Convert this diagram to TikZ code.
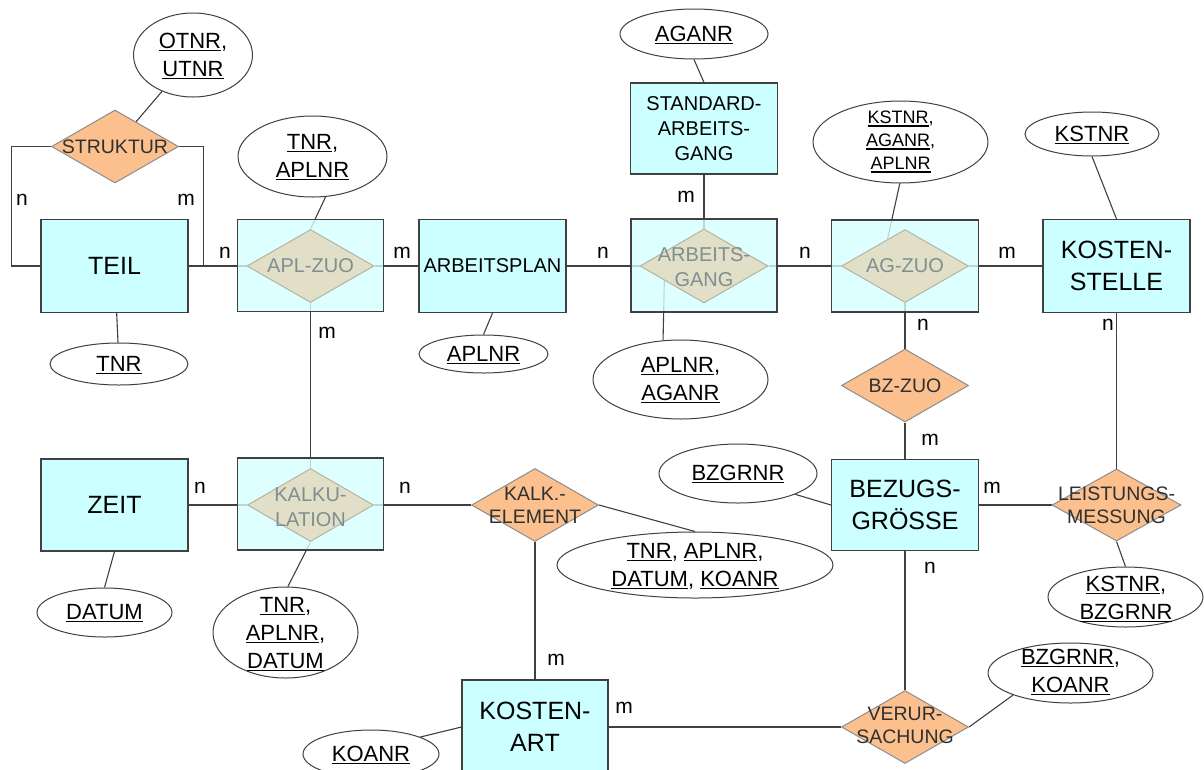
\documentclass[tikz,border=0pt]{standalone}
\usepackage{fontspec}
\setmainfont{Liberation Sans}
\usetikzlibrary{shapes.geometric}
\pgfdeclarelayer{paper}
\pgfdeclarelayer{bg}
\pgfsetlayers{paper,bg,main}
\definecolor{entfill}{HTML}{CCFFFF}
\definecolor{relfill}{HTML}{FBC08E}
\definecolor{relline}{HTML}{8C8C8C}
\definecolor{assocfill}{HTML}{D6FFFF}
\definecolor{assocdia}{HTML}{E2DFC8}
\definecolor{assocline}{HTML}{B4B4A0}
\definecolor{assoctext}{HTML}{7F8F8F}
\definecolor{linec}{HTML}{404040}
\definecolor{reltextc}{HTML}{303030}
\newsavebox\undlbox
\newcommand\undl[1]{\sbox\undlbox{#1}\rlap{\rule[-2.8pt]{\wd\undlbox}{1.2pt}}\usebox\undlbox}
\tikzset{
  entity/.style={rectangle, draw=linec, line width=1.1pt, fill=entfill, minimum width=147pt, minimum height=93pt, inner sep=0pt, align=center, font=\fontsize{25}{32}\selectfont},
  entsmall/.style={entity, font=\fontsize{20}{25}\selectfont},
  rel/.style={diamond, draw=relline, line width=1pt, fill=relfill, minimum width=127pt, minimum height=73pt, inner sep=0pt},
  reltext/.style={inner sep=0pt, align=center, text=reltextc, font=\fontsize{19.5}{23}\selectfont},
  assocbox/.style={rectangle, draw=linec, line width=1.1pt, fill=assocfill, fill opacity=0.8, minimum width=146pt, minimum height=92pt, inner sep=0pt},
  assocdia/.style={diamond, draw=assocline, line width=1pt, fill=assocdia, minimum width=127pt, minimum height=73pt, inner sep=0pt},
  assoctext/.style={inner sep=0pt, align=center, text=assoctext, font=\fontsize{20}{25}\selectfont},
  attr/.style={ellipse, draw=linec, line width=1pt, fill=white, inner sep=0pt},
  attrtext/.style={inner sep=0pt, align=center, font=\fontsize{22}{28}\selectfont},
  attrsmall/.style={inner sep=0pt, align=center, font=\fontsize{18}{23}\selectfont},
  card/.style={inner sep=0pt, font=\fontsize{21}{24}\selectfont},
  conn/.style={draw=linec, line width=1.1pt}
}
\begin{document}
\begin{tikzpicture}[x=1pt,y=-1pt]
\begin{pgfonlayer}{paper}
\fill[white] (0,0) rectangle (1204,769);
\end{pgfonlayer}
\useasboundingbox (0,0) rectangle (1204,769);

% entities
\node[entity] (teil) at (114.5,266) {TEIL};
\node[entsmall] (arbplan) at (492.5,266) {ARBEITSPLAN};
\node[entsmall, minimum height=91pt] (stdag) at (704,128.5) {STANDARD-\\ARBEITS-\\GANG};
\node[entity] (kst) at (1116.5,266) {KOSTEN-\\STELLE};
\node[entity, minimum height=91pt] (bezug) at (905,505) {BEZUGS-\\GRÖSSE};
\node[entity, minimum height=92pt] (zeit) at (114.5,505) {ZEIT};
\node[entity, minimum width=146pt, minimum height=94pt] (kart) at (535,727) {KOSTEN-\\ART};

% relationships
\node[rel] (strukt) at (115,146.5) {};
\node[reltext] (strukt-t) at (115,147) {STRUKTUR};
\node[rel] (bzzuo) at (905,385.5) {};
\node[reltext] (bzzuo-t) at (905,386) {BZ-ZUO};
\node[rel, minimum width=129pt, minimum height=72pt] (leist) at (1116.5,505) {};
\node[reltext] (leist-t) at (1116.5,505) {LEISTUNGS-\\MESSUNG};
\node[rel] (verur) at (905,727) {};
\node[reltext] (verur-t) at (905,725) {VERUR-\\SACHUNG};
\node[rel] (kalkel) at (535,505) {};
\node[reltext] (kalkel-t) at (535,505) {KALK.-\\ELEMENT};

% associative entities
\node[assocbox] (aplzuo-r) at (310.5,265.5) {};
\node[assocdia] (aplzuo) at (310.5,266) {};
\node[assoctext] (aplzuo-t) at (310.5,266) {APL-ZUO};
\node[assocbox, minimum height=93pt] (agang-r) at (704,265.5) {};
\node[assocdia, minimum width=128pt, minimum height=74pt] (agang) at (704,266) {};
\node[assoctext] (agang-t) at (704,267.5) {ARBEITS-\\GANG};
\node[assocbox, minimum width=147pt] (agzuo-r) at (905,266) {};
\node[assocdia] (agzuo) at (905,266) {};
\node[assoctext] (agzuo-t) at (905,266) {AG-ZUO};
\node[assocbox] (kalk-r) at (310.5,504) {};
\node[assocdia, minimum width=126pt] (kalk) at (310.5,505) {};
\node[assoctext] (kalk-t) at (310.5,507) {KALKU-\\LATION};

% attributes
\node[attr, minimum width=119pt, minimum height=84pt] (otnr) at (193,55) {};
\node[attrtext] (otnr-t) at (193,56) {\undl{OTNR},\\\undl{UTNR}};
\node[attr, minimum width=138pt, minimum height=42pt] (tnr1) at (119,364) {};
\node[attrtext] (tnr1-t) at (119,365) {\undl{TNR}};
\node[attr, minimum width=149pt, minimum height=81pt] (tnraplnr) at (312.5,156.5) {};
\node[attrtext] (tnraplnr-t) at (312.5,157) {\undl{TNR},\\\undl{APLNR}};
\node[attr, minimum width=148pt, minimum height=50pt] (aganr) at (694,34) {};
\node[attrtext] (aganr-t) at (694,35) {\undl{AGANR}};
\node[attr, minimum width=129pt, minimum height=38pt] (aplnr) at (483.5,354) {};
\node[attrtext] (aplnr-t) at (483.5,355) {\undl{APLNR}};
\node[attr, minimum width=175pt, minimum height=79pt] (aplnraganr) at (680.5,379.5) {};
\node[attrtext] (aplnraganr-t) at (680.5,380) {\undl{APLNR},\\\undl{AGANR}};
\node[attr, minimum width=175pt, minimum height=82pt] (kaa) at (900.5,142) {};
\node[attrsmall] (kaa-t) at (900.5,142) {\undl{KSTNR},\\\undl{AGANR},\\\undl{APLNR}};
\node[attr, minimum width=134pt, minimum height=44pt] (kstnr) at (1092,134) {};
\node[attrtext] (kstnr-t) at (1092,135) {\undl{KSTNR}};
\node[attr, minimum width=158pt, minimum height=59pt] (bzgrnr) at (738,473.5) {};
\node[attrtext] (bzgrnr-t) at (738,474) {\undl{BZGRNR}};
\node[attr, minimum width=276pt, minimum height=66pt] (tadk) at (695,565) {};
\node[attrtext] (tadk-t) at (695,566) {\undl{TNR}, \undl{APLNR},\\\undl{DATUM}, \undl{KOANR}};
\node[attr, minimum width=155pt, minimum height=60pt] (kstbz) at (1125.5,597) {};
\node[attrtext] (kstbz-t) at (1126,599) {\undl{KSTNR},\\\undl{BZGRNR}};
\node[attr, minimum width=165pt, minimum height=60pt] (bzko) at (1070.5,673) {};
\node[attrtext] (bzko-t) at (1070.5,672) {\undl{BZGRNR},\\\undl{KOANR}};
\node[attr, minimum width=135pt, minimum height=49pt] (datum) at (104.5,612.5) {};
\node[attrtext] (datum-t) at (104.5,613) {\undl{DATUM}};
\node[attr, minimum width=145pt, minimum height=91pt] (tad) at (285.5,632.5) {};
\node[attrtext] (tad-t) at (285.5,634) {\undl{TNR},\\\undl{APLNR},\\\undl{DATUM}};
\node[attr, minimum width=136pt, minimum height=48pt] (koanr) at (371,754) {};
\node[attrtext] (koanr-t) at (371,755) {\undl{KOANR}};

% cardinalities
\node[card] (c1) at (22,200) {n};
\node[card] (c2) at (186,200) {m};
\node[card] (c3) at (225,253) {n};
\node[card] (c4) at (402,253) {m};
\node[card] (c5) at (603,253) {n};
\node[card] (c6) at (686,197) {m};
\node[card] (c7) at (805,253) {n};
\node[card] (c8) at (1007,253) {m};
\node[card] (c9) at (327,333) {m};
\node[card] (c10) at (923,325) {n};
\node[card] (c11) at (1108,325) {n};
\node[card] (c12) at (930,440) {m};
\node[card] (c13) at (200,488) {n};
\node[card] (c14) at (405,488) {n};
\node[card] (c15) at (992,488) {m};
\node[card] (c16) at (930,568) {n};
\node[card] (c17) at (556,660) {m};
\node[card] (c18) at (624,708) {m};

% connectors
\begin{pgfonlayer}{bg}
\draw[conn] (strukt.west) -- ++(-39.5,0) |- (teil.west);
\draw[conn] (strukt.east) -- ++(24.5,0) |- (teil.east);
\draw[conn] (otnr) -- (strukt);
\draw[conn] (tnr1) -- (teil);
\draw[conn] (teil.east) -- (aplzuo.west);
\draw[conn] (tnraplnr.-72) -- (aplzuo.north);
\draw[conn] (aplzuo.south) -- (kalk.north);
\draw[conn] (aplzuo.east) -- (arbplan.west);
\draw[conn] (aplnr.north) -- (arbplan.south);
\draw[conn] (arbplan.east) -- (agang.west);
\draw[conn] (aganr.south) -- (stdag.north);
\draw[conn] (stdag.south) -- (agang.north);
\draw[conn] (aplnraganr.114) -- (agang.200);
\draw[conn] (agang.east) -- (agzuo.west);
\draw[conn] (kaa.-91) -- (agzuo.123);
\draw[conn] (agzuo.east) -- (kst.west);
\draw[conn] (kstnr.south) -- (kst.north);
\draw[conn] (agzuo.south) -- (bzzuo.north);
\draw[conn] (bzzuo.south) -- (bezug.north);
\draw[conn] (kst.south) -- (leist.north);
\draw[conn] (bezug.east) -- (leist.west);
\draw[conn] (leist.south) -- (kstbz.north);
\draw[conn] (bzgrnr.-20) -- (bezug.west);
\draw[conn] (bezug.south) -- (verur.north);
\draw[conn] (verur.east) -- (bzko.201);
\draw[conn] (kart.east) -- (verur.west);
\draw[conn] (kalkel.south) -- (kart.north);
\draw[conn] (kalkel.east) -- (tadk.north);
\draw[conn] (kalk.east) -- (kalkel.west);
\draw[conn] (zeit.east) -- (kalk.west);
\draw[conn] (zeit.south) -- (datum.north);
\draw[conn] (kalk.south) -- (tad.87);
\draw[conn] (koanr.19) -- (kart.west);
\end{pgfonlayer}
\end{tikzpicture}
\end{document}
